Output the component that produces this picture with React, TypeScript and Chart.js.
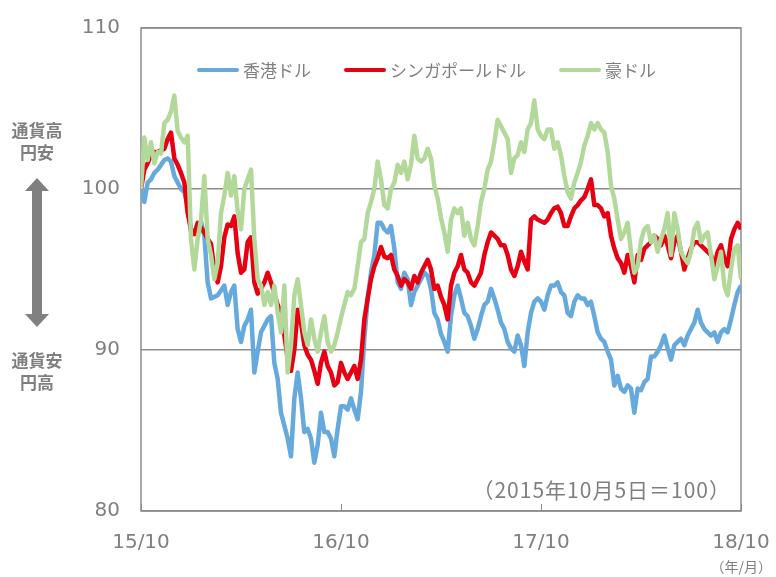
import React, { useEffect, useRef } from "react";
import { Chart, registerables } from "chart.js";

Chart.register(...registerables);

// ---- data (index i: 0 = 2015/10/5, 180 = 2018/10, roughly 6 days apart) ----
const X_TICK_LABELS = ["15/10", "16/10", "17/10", "18/10"];
const X_TICK_INDEX = [0, 60, 120, 180];
const Y_TICKS = [80, 90, 100, 110];
const SERIES_NAMES = ["香港ドル", "シンガポールドル", "豪ドル"];

const HKD = [
  100, 99.2, 100.4, 100.6, 101.0, 101.2, 101.5, 101.8, 101.9, 101.7, 100.8, 100.4, 100.0, 99.8, 99.0, 97.3,
  97.3, 97.7, 98.0, 97.1, 94.2, 93.2, 93.3, 93.4, 93.7, 94.0, 92.8, 93.6, 94.0, 91.3, 90.5,
  91.5, 91.9, 92.5, 88.6, 89.9, 91.1, 91.5, 91.9, 92.1, 89.2, 88.2, 86.1, 85.3, 84.5, 83.4,
  87.0, 88.6, 87.0, 84.9, 85.1, 84.5, 83.0, 84.1, 86.1, 84.9, 84.9, 84.5, 83.4, 85.1, 86.5,
  86.5, 86.3, 87.0, 86.3, 85.7, 87.4, 90.7, 93.2, 94.8, 95.9, 97.9, 97.9, 97.5, 97.3, 97.7,
  96.3, 94.2, 93.8, 94.8, 94.4, 92.8, 93.6, 94.0, 94.4, 94.8, 94.6, 93.8, 92.3, 91.9, 91.0,
  90.5, 89.9, 92.1, 93.4, 94.0, 93.2, 92.3, 92.1, 91.5, 90.7, 91.3, 92.1, 92.8, 93.0, 93.8,
  93.2, 92.5, 91.7, 91.3, 90.5, 90.1, 89.9, 90.9, 90.3, 89.0, 91.1, 92.3, 93.0, 93.2, 93.0,
  92.5, 93.4, 94.0, 94.0, 94.2, 93.6, 93.4, 92.3, 92.1, 93.0, 93.4, 93.2, 93.2, 92.8, 93.0,
  92.1, 91.1, 90.7, 90.5, 89.9, 89.4, 87.8, 88.4, 87.6, 87.4, 87.8, 87.6, 86.1, 87.6, 87.5,
  88.0, 88.2, 89.6, 89.6, 89.9, 90.3, 90.9, 90.1, 89.4, 90.3, 90.5, 90.7, 90.3, 90.9, 91.3,
  91.7, 92.5, 91.7, 91.3, 91.1, 90.9, 91.1, 90.5, 91.1, 91.3, 91.1, 91.9, 92.8, 93.6, 94.0,
];

const SGD = [
  100, 101.2, 101.6, 102.1, 102.3, 102.3, 102.4, 102.5, 103.1, 103.5, 101.9, 101.5, 101.0, 100.4, 98.5, 97.5,
  97.2, 97.9, 97.6, 97.3, 96.9, 96.6, 95.0, 94.2, 95.2, 97.0, 97.8, 97.7, 98.3, 96.0, 94.8,
  95.0, 96.7, 97.0, 94.2, 93.5, 93.8, 94.2, 94.8, 94.2, 93.5, 92.8, 92.3, 90.9, 89.5, 88.7,
  90.0, 92.5, 91.7, 90.3, 89.7, 89.4, 88.7, 87.9, 89.2, 89.9, 89.0, 88.6, 87.8, 88.0, 89.2,
  88.6, 88.2, 88.6, 89.0, 88.2, 89.4, 91.9, 93.2, 94.4, 95.2, 95.7, 96.4, 95.8, 95.7, 95.9,
  95.0, 94.6, 94.0, 94.4, 94.2, 93.8, 94.6, 94.2, 94.8, 95.2, 95.6, 95.0, 93.8, 94.0, 93.3,
  92.8, 91.9, 94.0, 94.8, 95.2, 95.9, 95.0, 94.8, 94.2, 94.0, 94.4, 94.8, 95.9, 96.7, 97.3,
  97.1, 96.9, 96.5, 96.5, 95.9, 95.0, 94.6, 95.2, 96.1, 95.5, 95.0, 98.1, 98.3, 98.1, 98.0,
  97.9, 98.1, 98.5, 98.8, 98.9, 98.5, 97.7, 97.7, 98.3, 98.8, 99.0, 99.3, 99.5, 100.0, 100.6,
  99.0, 99.0, 98.8, 98.3, 98.5, 97.1, 96.3, 95.7, 95.4, 94.8, 95.9, 95.2, 94.2, 95.9, 95.6,
  96.3, 96.5, 96.7, 97.1, 96.9, 96.5, 97.1, 96.5, 95.7, 96.7, 97.1, 96.1, 95.0, 95.7, 96.3,
  96.7, 96.7, 96.5, 96.3, 96.1, 95.9, 95.2, 96.1, 96.5, 95.7, 95.2, 96.9, 97.5, 97.9, 97.5,
];

const AUD = [
  100, 103.2, 101.8, 102.9, 101.6, 102.3, 102.2, 104.1, 104.3, 104.8, 105.8, 103.6, 103.2, 102.9, 103.3, 96.9,
  95.0, 96.9, 98.1, 100.8, 96.9, 95.9, 94.4, 95.4, 98.5, 99.6, 101.0, 99.6, 100.8, 98.6, 97.5,
  100.0, 100.6, 101.2, 96.9, 94.4, 94.0, 92.8, 93.6, 92.8, 94.0, 92.3, 91.1, 94.0, 88.6, 90.3,
  93.4, 94.4, 92.8, 91.1, 90.3, 91.9, 90.7, 89.9, 91.1, 92.1, 90.5, 89.9, 90.3, 91.1, 92.0,
  92.8, 93.6, 93.4, 93.8, 95.2, 96.7, 96.9, 98.5, 99.2, 100.0, 101.7, 100.6, 99.0, 98.8, 100.0,
  100.4, 101.5, 101.0, 101.7, 100.6, 101.5, 103.3, 101.9, 101.7, 101.9, 102.5, 101.9, 100.2, 99.4, 98.2,
  97.3, 96.1, 98.1, 98.8, 98.5, 98.8, 97.1, 97.9, 96.9, 96.5, 97.7, 99.2, 100.0, 101.2, 101.7,
  102.9, 104.3, 103.9, 103.5, 103.1, 101.0, 101.9, 102.1, 102.9, 102.3, 103.7, 104.1, 105.5, 103.7, 103.3,
  103.1, 103.7, 103.7, 102.5, 102.9, 102.1, 100.8, 99.8, 99.4, 100.4, 101.0, 101.7, 102.7, 103.3, 104.1,
  103.7, 104.1, 103.7, 103.5, 102.3, 100.2, 99.4, 98.1, 96.9, 97.3, 97.9, 96.1, 94.8, 95.2, 96.8,
  97.5, 97.7, 96.7, 97.1, 96.1, 96.9, 97.5, 98.5, 95.9, 98.5, 97.5, 96.1, 95.7, 95.4, 96.1,
  97.5, 97.9, 96.7, 97.1, 97.3, 95.9, 94.4, 95.2, 96.1, 94.0, 93.4, 95.0, 96.3, 96.5, 94.4,
];

const COLORS = ["#65a9dd", "#e60012", "#b3d99a"];
const GRAY = "#7f7f7f";
const FRAME = "#8c8c8c";
const TICK_FONT = '"DejaVu Sans", sans-serif';
const JP_FONT = '"Noto Sans CJK JP", sans-serif';

const overlayPlugin = {
  id: "overlay",
  beforeDatasetsDraw(chart: any) {
    const { ctx, chartArea: a, scales } = chart;
    ctx.save();
    ctx.strokeStyle = FRAME;
    ctx.lineWidth = 1.5;
    ctx.strokeRect(a.left, a.top, a.right - a.left, a.bottom - a.top);
    // inward tick marks on x axis
    ctx.beginPath();
    X_TICK_INDEX.forEach((v) => {
      const px = Math.round(scales.x.getPixelForValue(v)) + 0.5;
      ctx.moveTo(px, a.bottom);
      ctx.lineTo(px, a.bottom - 7);
    });
    ctx.lineWidth = 1;
    ctx.stroke();
    ctx.restore();
  },
  afterDraw(chart: any) {
    const { ctx, chartArea: a } = chart;
    ctx.save();
    // legend inside plot area
    ctx.font = `17px ${JP_FONT}`;
    ctx.textBaseline = "middle";
    let x = 197;
    const y = 70;
    SERIES_NAMES.forEach((name, i) => {
      ctx.strokeStyle = COLORS[i];
      ctx.lineWidth = 4;
      ctx.lineCap = "round";
      ctx.beginPath();
      ctx.moveTo(x + 2, y);
      ctx.lineTo(x + 40, y);
      ctx.stroke();
      ctx.fillStyle = GRAY;
      ctx.textAlign = "left";
      ctx.fillText(name, x + 46, y + 1);
      x += 46 + ctx.measureText(name).width + 33;
    });

    // base note
    ctx.font = `21px ${JP_FONT}`;
    (ctx as any).letterSpacing = "1px";
    ctx.textAlign = "right";
    ctx.fillText("（2015年10月5日＝100）", a.right - 10, 490);
    (ctx as any).letterSpacing = "0px";

    // unit
    ctx.font = `14px ${JP_FONT}`;
    ctx.textAlign = "right";
    ctx.fillText("（年/月）", 772, 567);

    // side annotations
    ctx.font = `bold 17px ${JP_FONT}`;
    ctx.textAlign = "center";
    ctx.fillText("通貨高", 37, 131);
    ctx.fillText("円安", 37, 153);
    ctx.fillText("通貨安", 37, 361);
    ctx.fillText("円高", 37, 383);

    // double arrow
    const cx = 37;
    const top = 178;
    const bot = 327;
    const head = 13;
    const hw = 12;
    const sw = 5;
    ctx.fillStyle = "#808080";
    ctx.beginPath();
    ctx.moveTo(cx, top);
    ctx.lineTo(cx + hw, top + head);
    ctx.lineTo(cx + sw, top + head);
    ctx.lineTo(cx + sw, bot - head);
    ctx.lineTo(cx + hw, bot - head);
    ctx.lineTo(cx, bot);
    ctx.lineTo(cx - hw, bot - head);
    ctx.lineTo(cx - sw, bot - head);
    ctx.lineTo(cx - sw, top + head);
    ctx.lineTo(cx - hw, top + head);
    ctx.closePath();
    ctx.fill();
    ctx.restore();
  },
};

export default function App() {
  const ref = useRef<HTMLCanvasElement>(null);
  useEffect(() => {
    document.body.style.margin = "0";
    const canvas = ref.current;
    if (!canvas) return;
    const series = [HKD, SGD, AUD];
    const chart = new Chart(canvas, {
      type: "line",
      data: {
        datasets: series.map((arr, k) => ({
          label: SERIES_NAMES[k],
          data: arr.map((v, i) => ({ x: i, y: v })),
          borderColor: COLORS[k],
          backgroundColor: COLORS[k],
          borderWidth: 4.5,
          pointRadius: 0,
          tension: 0,
          fill: false,
          order: 3 - k,
          borderJoinStyle: "round" as const,
        })),
      },
      options: {
        responsive: false,
        animation: false,
        events: [],
        layout: { padding: { top: 28, right: 35, left: 0, bottom: 0 } },
        plugins: { legend: { display: false }, tooltip: { enabled: false } },
        scales: {
          x: {
            type: "linear",
            min: 0,
            max: 180,
            afterBuildTicks: (s: any) => {
              s.ticks = X_TICK_INDEX.map((v) => ({ value: v }));
            },
            afterFit: (s: any) => {
              s.height = 66;
              s.paddingLeft = 0;
              s.paddingRight = 0;
            },
            ticks: {
              autoSkip: false,
              maxRotation: 0,
              padding: 12,
              color: GRAY,
              font: { family: TICK_FONT, size: 20 },
              callback: (v: any) => X_TICK_LABELS[X_TICK_INDEX.indexOf(Number(v))],
            },
            grid: { display: false },
            border: { display: false },
          },
          y: {
            min: 80,
            max: 110,
            afterBuildTicks: (s: any) => {
              s.ticks = Y_TICKS.map((v) => ({ value: v }));
            },
            afterFit: (s: any) => {
              s.width = 141;
              s.paddingTop = 0;
              s.paddingBottom = 0;
            },
            ticks: {
              padding: 21,
              color: GRAY,
              font: { family: TICK_FONT, size: 20 },
            },
            grid: { color: FRAME, lineWidth: 1.5, drawTicks: false },
            border: { display: false },
          },
        },
      },
      plugins: [overlayPlugin],
    });
    return () => chart.destroy();
  }, []);
  return (
    <div style={{ position: "absolute", left: 0, top: 0, width: 776, height: 577, background: "#fff" }}>
      <canvas ref={ref} width={776} height={577} style={{ display: "block" }} />
    </div>
  );
}
